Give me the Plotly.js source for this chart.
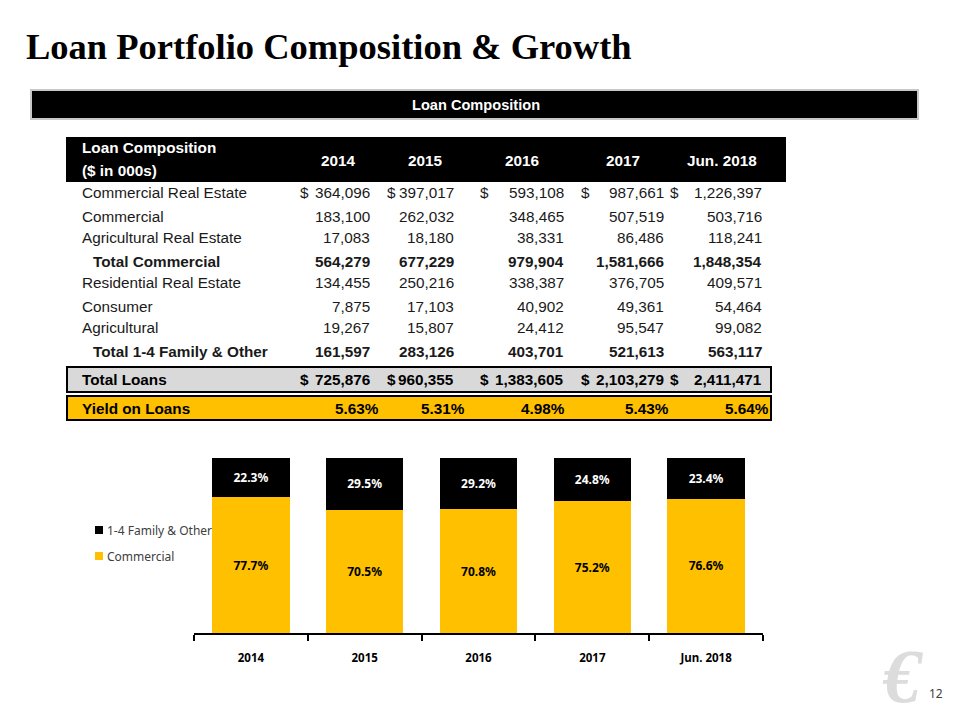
<!DOCTYPE html>
<html>
<head>
<meta charset="utf-8">
<script src="https://cdn.plot.ly/plotly-3.0.1.min.js"></script>
<style>html,body{margin:0;padding:0;background:#fff;}#chart{width:960px;height:720px;}</style>
</head>
<body>
<div id="chart"></div>
<script>
// ---------- data ----------
var years = ['2014', '2015', '2016', '2017', 'Jun. 2018'];
var rowLabels = ['Commercial Real Estate', 'Commercial', 'Agricultural Real Estate', 'Total Commercial',
                 'Residential Real Estate', 'Consumer', 'Agricultural', 'Total 1-4 Family & Other'];
var commercialRealEstate = [364096, 397017, 593108, 987661, 1226397];
var commercialLoans = [183100, 262032, 348465, 507519, 503716];
var agriculturalRealEstate = [17083, 18180, 38331, 86486, 118241];
var totalCommercial = [564279, 677229, 979904, 1581666, 1848354];
var residentialRealEstate = [134455, 250216, 338387, 376705, 409571];
var consumerLoans = [7875, 17103, 40902, 49361, 54464];
var agriculturalLoans = [19267, 15807, 24412, 95547, 99082];
var totalFamilyOther = [161597, 283126, 403701, 521613, 563117];
var totalLoans = [725876, 960355, 1383605, 2103279, 2411471];
var yieldOnLoans = [5.63, 5.31, 4.98, 5.43, 5.64];
var commercialPct = [77.7, 70.5, 70.8, 75.2, 76.6];
var familyOtherPct = [22.3, 29.5, 29.2, 24.8, 23.4];
var seriesNames = ['Commercial', '1-4 Family & Other'];

// ---------- layout helpers ----------
var W = 960, H = 720;
function px(x) { return x / W; }
function py(y) { return 1 - y / H; }
var tableFont = 'Liberation Sans Narrow, Arial Narrow, Liberation Sans, Arial, sans-serif';
var chartFont = 'Noto Sans, Open Sans, sans-serif';
var tableRows = [commercialRealEstate, commercialLoans, agriculturalRealEstate, totalCommercial,
                 residentialRealEstate, consumerLoans, agriculturalLoans, totalFamilyOther];
var boldRows = [false, false, false, true, false, false, false, true];
var dollarRows = [true, false, false, false, false, false, false, false];
var rowY = [193, 216, 238, 261, 283, 306, 328, 351];
var numRight = [371, 455, 565, 665, 763];
var dollarX = [304, 391, 484, 585, 674];
var headCenter = [338, 425, 522, 623, 722];
var yieldRight = [380, 466, 566, 670, 770];
var fs = 15.3;

var shapes = [], ann = [];
function rect(x0, y0, x1, y1, fill, lineColor, lw) {
  shapes.push({type: 'rect', xref: 'paper', yref: 'paper', x0: px(x0), x1: px(x1), y0: py(y1), y1: py(y0),
    fillcolor: fill, line: {color: lineColor || fill, width: lw === undefined ? 0 : lw}, layer: 'below'});
}
function txt(t, x, y, anchor, size, color, family) {
  ann.push({text: t, x: px(x), y: py(y), xref: 'paper', yref: 'paper', xanchor: anchor, yanchor: 'middle',
    showarrow: false, borderpad: 0, font: {size: size, color: color, family: family}});
}
function fmt(v) { return v.toLocaleString('en-US'); }

// title
txt('<b>Loan Portfolio Composition &amp; Growth</b>', 25, 46, 'left', 36.5, '#000', 'Liberation Serif, Times New Roman, serif');
// banner
rect(31, 90, 918, 119, '#000000', '#c8c8c8', 2);
txt('<b>Loan Composition</b>', 476, 105, 'center', 14.6, '#fff', 'Liberation Sans, Arial, sans-serif');
// table header
rect(66, 137, 786, 182, '#000000');
txt('<b>Loan Composition</b>', 81, 148, 'left', fs, '#fff', tableFont);
txt('<b>($ in 000s)</b>', 81, 170, 'left', fs, '#fff', tableFont);
years.forEach(function (yr, i) { txt('<b>' + yr + '</b>', headCenter[i], 160, 'center', fs, '#fff', tableFont); });
// body rows
rowLabels.forEach(function (lab, r) {
  var b = boldRows[r];
  txt(b ? '<b>' + lab + '</b>' : lab, b ? 92 : 81, rowY[r], 'left', fs, '#1a1a1a', tableFont);
  tableRows[r].forEach(function (v, i) {
    txt(b ? '<b>' + fmt(v) + '</b>' : fmt(v), numRight[i], rowY[r], 'right', fs, '#1a1a1a', tableFont);
    if (dollarRows[r]) txt('$', dollarX[i], rowY[r], 'center', fs, '#1a1a1a', tableFont);
  });
});
// total loans
rect(67, 367, 771, 392, '#d9d9d9', '#000', 2);
txt('<b>Total Loans</b>', 81, 379, 'left', fs, '#000', tableFont);
totalLoans.forEach(function (v, i) {
  txt('<b>' + fmt(v) + '</b>', numRight[i], 379, 'right', fs, '#000', tableFont);
  txt('<b>$</b>', dollarX[i], 379, 'center', fs, '#000', tableFont);
});
// yield
rect(67, 396, 771, 420, '#ffc000', '#000', 2);
txt('<b>Yield on Loans</b>', 81, 408, 'left', fs, '#000', tableFont);
yieldOnLoans.forEach(function (v, i) {
  txt('<b>' + v.toFixed(2) + '%</b>', yieldRight[i], 408, 'right', fs, '#000', tableFont);
});
// custom legend
shapes.push({type: 'rect', xref: 'paper', yref: 'paper', x0: px(95), x1: px(103), y0: py(534), y1: py(526), fillcolor: '#000', line: {width: 0}});
shapes.push({type: 'rect', xref: 'paper', yref: 'paper', x0: px(95), x1: px(103), y0: py(560), y1: py(552), fillcolor: '#ffc000', line: {width: 0}});
txt(seriesNames[1], 106, 530, 'left', 12, '#404040', chartFont);
txt(seriesNames[0], 106, 556, 'left', 12, '#404040', chartFont);
// logo + page number
txt('<b><i>€</i></b>', 903, 676, 'center', 76, '#dcdcdc', 'Liberation Serif, serif');
txt('12', 936, 693, 'center', 12, '#404040', chartFont);

var traces = [
  {type: 'bar', name: seriesNames[0], x: years, y: commercialPct, marker: {color: '#ffc000'},
   texttemplate: '<b>%{y:.1f}%</b>', textposition: 'inside', insidetextanchor: 'middle', textangle: 0,
   textfont: {color: '#000', size: 12, family: chartFont}, hoverinfo: 'none', showlegend: false},
  {type: 'bar', name: seriesNames[1], x: years, y: familyOtherPct, marker: {color: '#000000'},
   texttemplate: '<b>%{y:.1f}%</b>', textposition: 'inside', insidetextanchor: 'middle', textangle: 0,
   textfont: {color: '#fff', size: 12, family: chartFont}, hoverinfo: 'none', showlegend: false}
];

var layout = {
  width: W, height: H, margin: {l: 0, r: 0, t: 0, b: 0},
  paper_bgcolor: '#fff', plot_bgcolor: 'rgba(0,0,0,0)',
  barmode: 'stack', bargap: 0.32, showlegend: false,
  font: {family: chartFont},
  xaxis: {domain: [px(194), px(763)], type: 'category', showline: true, linecolor: '#000', linewidth: 2,
    ticks: 'outside', tickson: 'boundaries', ticklen: 6, tickwidth: 2, tickcolor: '#000',
    tickfont: {size: 11.5, color: '#000', family: chartFont}, ticklabelstandoff: 13,
    tickprefix: '<b>', ticksuffix: '</b>', showgrid: false, zeroline: false, fixedrange: true},
  yaxis: {domain: [1 - 633 / H, 1 - 458 / H], range: [0, 100], visible: false, fixedrange: true},
  shapes: shapes, annotations: ann
};
Plotly.newPlot('chart', traces, layout, {displayModeBar: false, staticPlot: true});
</script>
</body>
</html>
